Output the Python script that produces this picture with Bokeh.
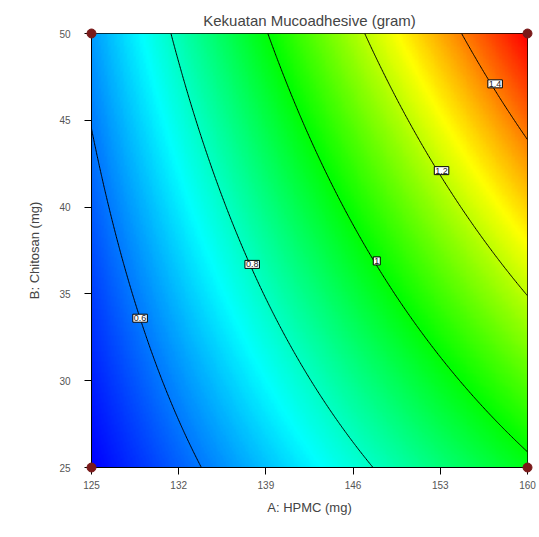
import numpy as np
from bokeh.plotting import figure
from bokeh.models import LinearColorMapper, FixedTicker, Label
from bokeh.embed import file_html
from bokeh.resources import INLINE

# ---- data ----
title = "Kekuatan Mucoadhesive (gram)"
x_label = "A: HPMC (mg)"
y_label = "B: Chitosan (mg)"
A_low, A_high = 125, 160
B_low, B_high = 25, 50
x_ticks = [125, 132, 139, 146, 153, 160]
y_ticks = [25, 30, 35, 40, 45, 50]
# fitted model in coded units: b0, bA, bB, bAB, bAA, bBB
model_coef = [0.906, 0.352, 0.18, 0.098, 0.0, 0.0]
contour_levels = [0.6, 0.8, 1.0, 1.2, 1.4]
contour_label_text = ["0.6", "0.8", "1", "1.2", "1.4"]
label_A = [128.9, 137.9, 147.9, 153.1, 157.4]
label_B = [33.6, 36.7, 36.9, 42.1, 47.1]
design_A = [125, 125, 160, 160]
design_B = [25, 50, 25, 50]

# ---- surface from model ----
def response(A, B):
    a = (A - (A_low + A_high) / 2) / ((A_high - A_low) / 2)
    b = (B - (B_low + B_high) / 2) / ((B_high - B_low) / 2)
    c = model_coef
    return c[0] + c[1] * a + c[2] * b + c[3] * a * b + c[4] * a * a + c[5] * b * b

Ag = np.linspace(A_low, A_high, 300)
Bg = np.linspace(B_low, B_high, 300)
AA, BB = np.meshgrid(Ag, Bg)
Z = response(AA, BB)

# jet-like palette: blue -> cyan -> green -> yellow -> red
anchors = np.array([[0, 0, 255], [0, 255, 255], [0, 255, 0], [255, 255, 0], [255, 0, 0]], float)
pos = np.linspace(0, 1, len(anchors))
t = np.linspace(0, 1, 256)
palette = []
for v in t:
    r = np.interp(v, pos, anchors[:, 0]); g = np.interp(v, pos, anchors[:, 1]); bl = np.interp(v, pos, anchors[:, 2])
    palette.append("#%02x%02x%02x" % (int(r), int(g), int(bl)))
mapper = LinearColorMapper(palette=palette, low=float(Z.min()), high=float(Z.max()))

p = figure(width=539, height=537, output_backend="svg", toolbar_location=None,
           x_range=(A_low, A_high), y_range=(B_low, B_high),
           min_border_left=91, min_border_right=12, min_border_top=33, min_border_bottom=70,
           title=title)
p.image(image=[Z], x=A_low, y=B_low, dw=A_high - A_low, dh=B_high - B_low, color_mapper=mapper)
p.contour(Ag, Bg, Z, levels=contour_levels, fill_color=None, line_color="black", line_width=1)

for xa, yb, txt in zip(label_A, label_B, contour_label_text):
    p.add_layout(Label(x=xa, y=yb, text=txt, text_align="center", text_baseline="middle",
                       text_font_size="9px", text_color="#222222", text_font="Liberation Sans",
                       background_fill_color="white", border_line_color="black",
                       border_line_width=1, padding=1))

pts = p.scatter(design_A, design_B, size=9, color="#7a1a1a")
pts.level = "overlay"

p.grid.visible = False
p.outline_line_color = "black"
p.outline_line_width = 1
p.background_fill_color = "white"
p.border_fill_color = "white"

p.title.align = "center"
p.title.text_font = "Liberation Sans"
p.title.text_font_size = "15px"
p.title.text_font_style = "normal"
p.title.text_color = "#444444"

p.xaxis.ticker = FixedTicker(ticks=x_ticks)
p.yaxis.ticker = FixedTicker(ticks=y_ticks)
for ax in (p.xaxis, p.yaxis):
    ax.axis_line_color = "black"
    ax.major_tick_line_color = "black"
    ax.major_tick_out = 7
    ax.major_tick_in = 0
    ax.minor_tick_out = 0
    ax.minor_tick_in = 0
    ax.major_label_text_font = "Liberation Sans"
    ax.major_label_text_font_size = "10px"
    ax.major_label_text_color = "#555555"
    ax.axis_label_text_font = "Liberation Sans"
    ax.axis_label_text_font_size = "13px"
    ax.axis_label_text_font_style = "normal"
    ax.axis_label_text_color = "#444444"
p.xaxis.axis_label = x_label
p.yaxis.axis_label = y_label
p.xaxis.major_label_standoff = 6
p.xaxis.axis_label_standoff = 8
p.yaxis.major_label_standoff = 14
p.yaxis.axis_label_standoff = 14
p.yaxis.major_label_orientation = "horizontal"

open("out.html", "w").write(file_html(p, INLINE))
